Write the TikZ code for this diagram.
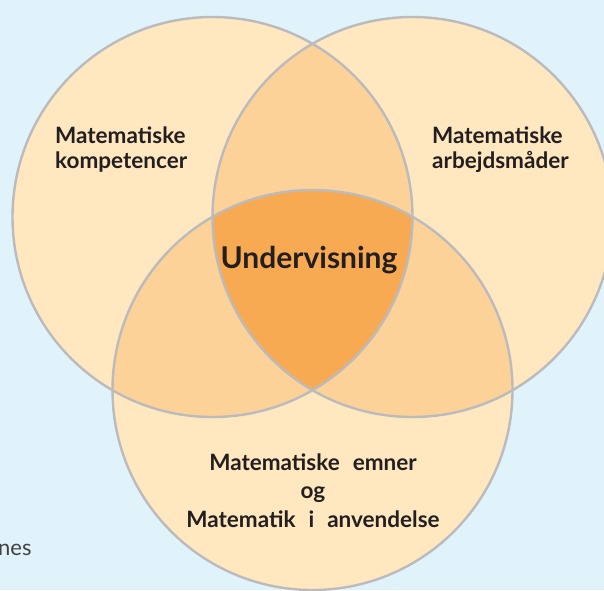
\documentclass[tikz,border=0pt]{standalone}
\usepackage{fontspec}
\setmainfont{Lato}
\definecolor{bg}{HTML}{E0F3FB}
\definecolor{one}{HTML}{FFE7BF}
\definecolor{two}{HTML}{FCD298}
\definecolor{three}{HTML}{F8AA52}
\definecolor{edge}{HTML}{BBBBBD}
\definecolor{ink}{HTML}{231F20}
\tikzset{
  lbl/.style={font=\fontsize{22.5}{25}\selectfont\bfseries, text=ink, align=left, inner sep=0pt},
  lblc/.style={lbl, align=center},
  ring/.style={draw=edge, line width=2.4pt}
}
\newcommand{\wsp}{\hspace{13pt}}
\begin{document}
\begin{tikzpicture}[x=1pt,y=-1pt]
\useasboundingbox (0,0) rectangle (604,590);
\fill[bg] (0,0) rectangle (604,590);
\clip (0,0) rectangle (604,590);
\coordinate (A) at (212.5,217);
\coordinate (B) at (412.5,217);
\coordinate (C) at (312.5,390);
\def\r{200}
% base fills
\fill[one] (A) circle (\r);
\fill[one] (B) circle (\r);
\fill[one] (C) circle (\r);
% pairwise
\begin{scope}\clip (A) circle (\r); \fill[two] (B) circle (\r); \fill[two] (C) circle (\r);\end{scope}
\begin{scope}\clip (B) circle (\r); \fill[two] (C) circle (\r);\end{scope}
% triple
\begin{scope}\clip (A) circle (\r); \clip (B) circle (\r); \fill[three] (C) circle (\r);\end{scope}
% outlines
\draw[ring] (A) circle (\r);
\draw[ring] (B) circle (\r);
\draw[ring] (C) circle (\r);
% labels
\node[lbl, anchor=base west] (kom) at (55,168) {Matematiske\\kompetencer};
\node[lbl, anchor=base west] (arb) at (432,168) {Matematiske\\arbejdsmåder};
\node[lblc, font=\fontsize{30}{34}\selectfont\bfseries, anchor=base] (und) at (309,268) {Undervisning};
\node[lblc, anchor=base, font=\fontsize{22.5}{28.5}\selectfont\bfseries] (emn) at (313,527) {Matematiske\wsp emner\\og\\Matematik\wsp i\wsp anvendelse};
\node[font=\fontsize{22}{24}\selectfont, text=ink!85, anchor=base west, inner sep=0pt] (nes) at (-2,555) {nes};
\end{tikzpicture}
\end{document}
